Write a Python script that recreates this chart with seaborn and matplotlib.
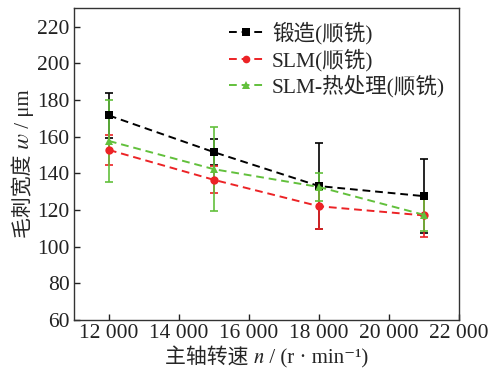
import matplotlib
matplotlib.use("Agg")
import matplotlib.pyplot as plt
import matplotlib.ticker as mticker
import seaborn as sns
import pandas as pd

speed = [12000, 15000, 18000, 21000]
forged = [171.5, 151.5, 133.0, 127.5]
forged_err = [12.5, 7.0, 23.5, 20.0]
slm = [152.7, 136.4, 122.0, 117.0]
slm_err = [8.0, 7.3, 12.5, 12.0]
slm_heat = [157.6, 142.2, 132.5, 117.3]
slm_heat_err = [22.5, 23.0, 7.5, 9.0]

labels = ["锻造(顺铣)", "SLM(顺铣)", "SLM-热处理(顺铣)"]
colors = ["#000000", "#ec2326", "#62c03c"]
markers = ["s", "o", "^"]
yticks = [60, 80, 100, 120, 140, 160, 180, 200, 220]
xticks = [12000, 14000, 16000, 18000, 20000, 22000]

sns.set_style("ticks")
plt.rcParams["font.family"] = ["Liberation Serif", "Noto Sans CJK SC", "STIXGeneral", "DejaVu Sans"]

fig = plt.figure(figsize=(4.89, 3.71), dpi=100)
ax = fig.add_axes([0.151, 0.1375, 0.788, 0.8405])

rows = []
for lab, vals in zip(labels, [forged, slm, slm_heat]):
    for s, v in zip(speed, vals):
        rows.append({"speed": s, "w": v, "series": lab})
df = pd.DataFrame(rows)

for lab, vals, err, c in zip(labels, [forged, slm, slm_heat],
                             [forged_err, slm_err, slm_heat_err], colors):
    ax.errorbar(speed, vals, yerr=err, fmt="none", ecolor=c, elinewidth=1.2,
                capsize=3, capthick=1.2, zorder=3)

sns.lineplot(data=df, x="speed", y="w", hue="series", style="series",
             palette=dict(zip(labels, colors)),
             markers=dict(zip(labels, markers)),
             dashes={l: (4, 2.5) for l in labels},
             markersize=6, markeredgewidth=0, linewidth=1.4, ax=ax, zorder=4)

ax.set_xlim(11000, 22000)
ax.set_ylim(60, 230)
ax.set_xticks(xticks)
ax.set_yticks(yticks)
ax.xaxis.set_major_formatter(mticker.FuncFormatter(lambda v, p: f"{int(v):,}".replace(",", " ")))
ax.tick_params(direction="in", length=4, width=1, labelsize=15.5, colors="#222222", pad=3)
for sp in ax.spines.values():
    sp.set_linewidth(1.0)
    sp.set_color("#333333")

ax.set_xlabel("主轴转速 𝑛 / (r · min⁻¹)", fontsize=15, labelpad=2)
ax.set_ylabel("毛刺宽度 𝑤 / μm", fontsize=15, labelpad=2)

leg = ax.legend(loc="upper right", frameon=False, fontsize=15.5, handlelength=1.6,
                handletextpad=0.4, labelspacing=0.18, borderaxespad=0.25,
                bbox_to_anchor=(1.0, 1.0))
for h in leg.legend_handles:
    h.set_markersize(5.5)

fig.savefig("out.png", dpi=100)
